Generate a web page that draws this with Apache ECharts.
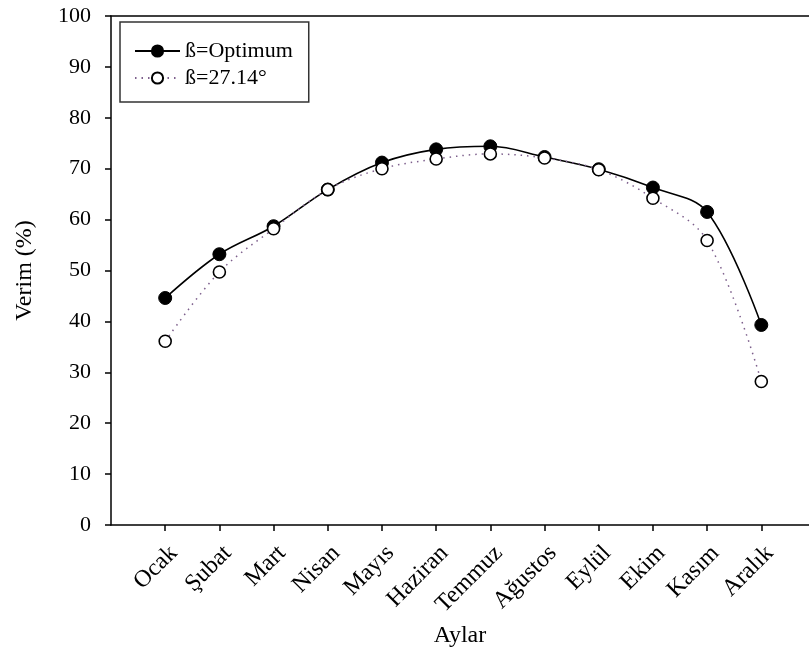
<!DOCTYPE html>
<html>
<head>
<meta charset="utf-8">
<script src="https://cdn.jsdelivr.net/npm/echarts@6/dist/echarts.min.js"></script>
<style>
  html, body { margin: 0; padding: 0; background: #fff; }
  #chart { width: 809px; height: 650px; }
</style>
</head>
<body>
<div id="chart"></div>
<script>
// aylar ve verim değerleri (%)
const months = ['Ocak', 'Şubat', 'Mart', 'Nisan', 'Mayıs', 'Haziran', 'Temmuz', 'Ağustos', 'Eylül', 'Ekim', 'Kasım', 'Aralık'];
const optimum = [44.6, 53.2, 58.7, 65.9, 71.2, 73.8, 74.4, 72.3, 69.9, 66.3, 61.5, 39.3];
const fixed27 = [36.1, 49.7, 58.2, 65.9, 70.0, 71.9, 72.9, 72.1, 69.8, 64.2, 55.9, 28.2];
const yTicks = [0, 10, 20, 30, 40, 50, 60, 70, 80, 90, 100];

const font = '"Liberation Serif", "DejaVu Serif", serif';
const monthPos = months.map((m, i) => i + 1);

const toPairs = (vals) => vals.map((v, i) => [i + 1, v]);

const chart = echarts.init(document.getElementById('chart'));
chart.setOption({
    animation: false,
    textStyle: { fontFamily: font, color: '#000' },
    grid: { left: 111, top: 16, right: 0, bottom: 125, outerBoundsMode: 'none' },
    legend: {
        left: 120, top: 22,
        orient: 'vertical',
        borderColor: '#333', borderWidth: 1.5,
        padding: [18, 16, 13, 14],
        itemGap: 5,
        itemWidth: 45, itemHeight: 14,
        textStyle: { fontFamily: font, fontSize: 22, color: '#000' },
        data: ['ß=Optimum', 'ß=27.14°']
    },
    xAxis: [
        {
            type: 'value',
            // sağ kenar çerçevenin dışına taşıyor (13 ay aralığı)
            min: 0, max: 12.88, interval: 1,
            name: 'Aylar',
            nameLocation: 'middle',
            nameGap: 97,
            nameTextStyle: { fontFamily: font, fontSize: 24, color: '#000' },
            axisLine: { lineStyle: { color: '#000', width: 1.5 } },
            axisTick: { show: true, length: 6, customValues: monthPos, lineStyle: { color: '#000', width: 1.5 } },
            axisLabel: {
                customValues: monthPos,
                rotate: 45, margin: 16,
                align: 'right', verticalAlign: 'top',
                fontFamily: font, fontSize: 24, color: '#000',
                formatter: (v) => months[v - 1] || ''
            },
            splitLine: { show: false }
        },
        {
            type: 'value', position: 'top',
            min: 0, max: 12.88,
            axisLine: { show: true, lineStyle: { color: '#000', width: 1.5 } },
            axisTick: { show: false },
            axisLabel: { show: false },
            splitLine: { show: false }
        }
    ],
    yAxis: {
        type: 'value',
        min: 0, max: 100, interval: 10,
        name: 'Verim (%)',
        nameLocation: 'middle',
        nameGap: 74,
        nameTextStyle: { fontFamily: font, fontSize: 24, color: '#000' },
        axisLine: { show: true, lineStyle: { color: '#000', width: 1.5 } },
        axisTick: { show: true, length: 6, lineStyle: { color: '#000', width: 1.5 } },
        axisLabel: {
            margin: 20, fontFamily: font, fontSize: 22, color: '#000',
            formatter: (v) => yTicks.includes(v) ? String(v) : ''
        },
        splitLine: { show: false }
    },
    series: [
        {
            name: 'ß=Optimum',
            type: 'line',
            data: toPairs(optimum),
            smooth: 0.35,
            symbol: 'circle',
            symbolSize: 13,
            itemStyle: { color: '#000', borderColor: '#000', borderWidth: 1 },
            lineStyle: { color: '#000', width: 1.6 },
            z: 3
        },
        {
            name: 'ß=27.14°',
            type: 'line',
            data: toPairs(fixed27),
            smooth: 0.35,
            symbol: 'circle',
            symbolSize: 12,
            itemStyle: { color: '#fff', borderColor: '#000', borderWidth: 1.6 },
            lineStyle: { color: '#7d5f8c', width: 1.5, type: [1.5, 5] },
            z: 4
        }
    ]
});
</script>
</body>
</html>
